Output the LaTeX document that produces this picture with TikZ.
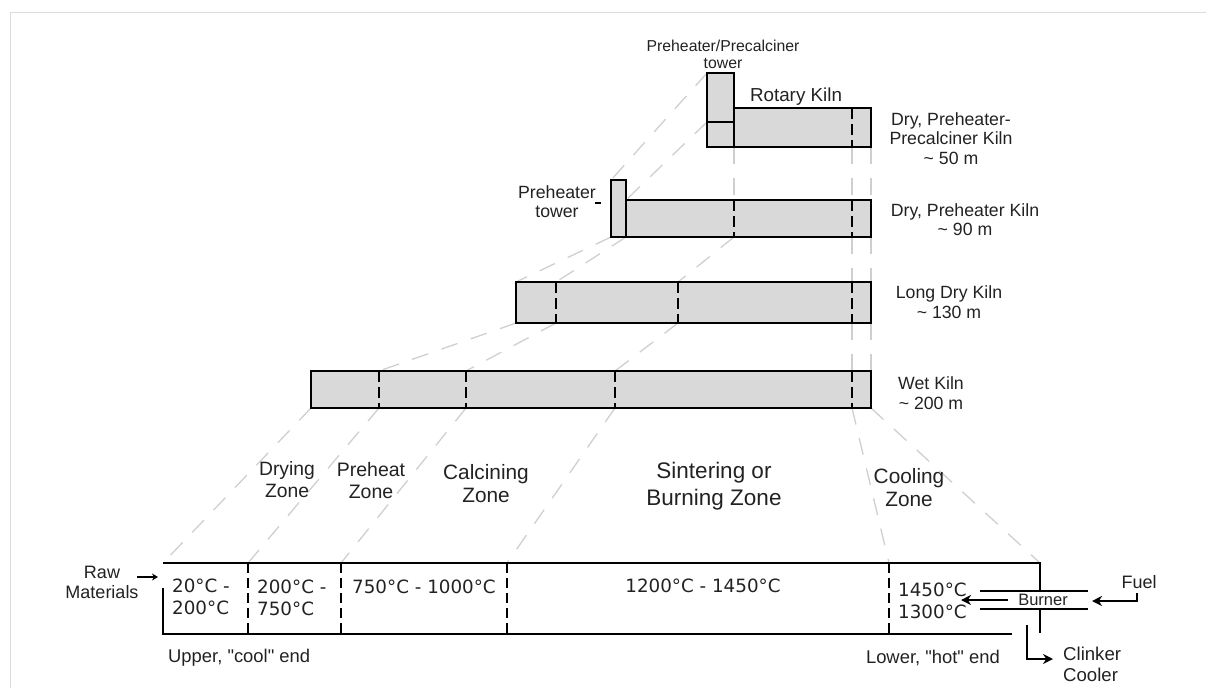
\documentclass[tikz,border=0pt]{standalone}
\usepackage{fontspec}
\setmainfont{Liberation Sans}
\newfontfamily\tempfont{DejaVu Sans}
\usetikzlibrary{arrows.meta}
\tikzset{
  kiln/.style={draw=black,fill=kilngray,line width=2.8pt,rectangle,anchor=north west,inner sep=0pt,outer sep=0pt},
  zoneline/.style={draw=black,line width=2.8pt,dash pattern=on 10.5pt off 5.5pt},
  wall/.style={draw=black,line width=2.8pt},
  thinwall/.style={draw=black,line width=2pt},
  guide/.style={draw=guidegray,line width=1.3pt,dash pattern=on 17pt off 14pt},
  flow/.style={draw=black,line width=2.2pt,-{Stealth[length=10pt,width=10pt]}},
  lab/.style={text=txt,align=center,inner sep=0pt,font=\fontsize{17.7}{19.5}\selectfont},
  zonelab/.style={text=txt,align=center,inner sep=0pt,font=\fontsize{20.8}{23}\selectfont},
  templab/.style={text=txt,align=left,inner sep=0pt,font=\tempfont\fontsize{18.3}{22}\selectfont}
}
\definecolor{kilngray}{HTML}{D9D9D9}
\definecolor{guidegray}{HTML}{CFCFCF}
\definecolor{framegray}{HTML}{DCDCDC}
\definecolor{txt}{HTML}{222222}
\begin{document}
\begin{tikzpicture}[x=1pt,y=-1pt]
\useasboundingbox (0,0) rectangle (1206,688);
\draw[framegray,line width=1.6pt] (10.5,688) -- (10.5,12.5) -- (1206,12.5);

% guide coordinates: bottom kiln
\foreach \n/\x in {a/163,b/248,c/341,d/507,e/889,f/1040}{\coordinate (B\n) at (\x,563);}
% wet kiln
\foreach \n/\x in {a/311,b/379,c/466,d/615,e/852,f/871}{\coordinate (Wb\n) at (\x,408);\coordinate (Wt\n) at (\x,371);}
% long dry kiln
\foreach \n/\x in {a/516,b/556,c/678,e/852,f/871}{\coordinate (Lb\n) at (\x,323);\coordinate (Lt\n) at (\x,282);}
% preheater kiln
\foreach \n/\x in {a/611,b/626,c/734,e/852,f/871}{\coordinate (Pb\n) at (\x,237);\coordinate (Pt\n) at (\x,200);}
\coordinate (Ptop) at (611,180);
% precalciner kiln
\foreach \n/\x in {c/734,e/852,f/871}{\coordinate (Cb\n) at (\x,147);}
\coordinate (Ctop) at (707,73);
\coordinate (Cmid) at (707,122);

% guides
\foreach \s/\t in {Ba/Wba,Bb/Wbb,Bc/Wbc,Bd/Wbd,Be/Wbe,Bf/Wbf,
  Wtb/Lba,Wtc/Lbb,Wtd/Lbc,Wte/Lbe,Wtf/Lbf,
  Lta/Pba,Ltb/Pbb,Ltc/Pbc,Lte/Pbe,Ltf/Pbf,
  Ptop/Ctop,Ptb/Cmid,Ptc/Cbc,Pte/Cbe,Ptf/Cbf}
  {\draw[guide] (\t) -- (\s);}

% wet kiln
\node[kiln,minimum width=560pt,minimum height=37pt] (wet) at (311,371) {};
\foreach \n in {b,c,d,e}{\draw[zoneline] (Wt\n) -- (Wb\n);}
% long dry
\node[kiln,minimum width=355pt,minimum height=41pt] (long) at (516,282) {};
\foreach \n in {b,c,e}{\draw[zoneline] (Lt\n) -- (Lb\n);}
% preheater
\node[kiln,minimum width=245pt,minimum height=37pt] (pre) at (626,200) {};
\node[kiln,minimum width=15pt,minimum height=57pt] (pretower) at (611,180) {};
\foreach \n in {c,e}{\draw[zoneline] (Pt\n) -- (Pb\n);}
% precalciner
\node[kiln,minimum width=137pt,minimum height=39pt] (cal) at (734,108) {};
\node[kiln,minimum width=27pt,minimum height=74pt] (caltower) at (707,73) {};
\draw[wall] (caltower.west |- Cmid) -- (caltower.east |- Cmid);
\coordinate (Cte) at (852,108);
\draw[zoneline] (Cte) -- (Cbe);

% bottom kiln
\coordinate (B0) at (163,588);
\coordinate (B1) at (163,634);
\coordinate (B2) at (1012,634);
\coordinate (R1) at (1040,590);
\coordinate (R2) at (1040,633);
\coordinate (R3) at (1040,609);
\draw[wall] (B0) -- (B1) -- (B2);
\draw[wall] (Ba) -- (Bf) -- (R1);
\draw[wall] (R3) -- (R2);
\foreach \n in {b,c,d,e}{\draw[zoneline,dash pattern=on 10pt off 5pt] (B\n) -- (B\n |- B1);}
% burner
\coordinate (Bu1) at (980,590.5);\coordinate (Bu2) at (1088,590.5);
\coordinate (Bu3) at (980,609);\coordinate (Bu4) at (1088,609);
\draw[thinwall] (Bu1) -- (Bu2);
\draw[thinwall] (Bu3) -- (Bu4);
\node[lab,font=\fontsize{16.5}{16}\selectfont] (burner) at (1043,600) {Burner};
\coordinate (F1) at (1008,600);\coordinate (F2) at (961,600);
\draw[flow] (F1) -- (F2);
\node[lab,font=\fontsize{18}{18}\selectfont] (fuel) at (1139,582) {Fuel};
\coordinate (F3) at (1137,593);\coordinate (F4) at (1137,601);\coordinate (F5) at (1092,601);
\draw[flow] (F3) -- (F4) -- (F5);
\coordinate (K1) at (1027,625);\coordinate (K2) at (1027,659);\coordinate (K3) at (1053,659);
\draw[flow] (K1) -- (K2) -- (K3);
\node[lab,align=left,anchor=west,font=\fontsize{18.6}{21}\selectfont] (clinker) at (1063,664.5) {Clinker\\Cooler};
\coordinate (Ra1) at (137,577);\coordinate (Ra2) at (158,577);
\draw[draw=black,line width=2.2pt,-{Stealth[length=6pt,width=7pt]}] (Ra1) -- (Ra2);
\node[lab,font=\fontsize{18}{20}\selectfont] (raw) at (102,582) {Raw\\Materials};
\node[lab,anchor=west,font=\fontsize{18.4}{20}\selectfont] (upper) at (168,658) {Upper, \textquotedbl cool\textquotedbl{} end};
\node[lab,anchor=east,font=\fontsize{18.4}{20}\selectfont] (lower) at (1000,658) {Lower, \textquotedbl hot\textquotedbl{} end};

% temperatures
\node[templab,anchor=west] (t1) at (172,596.5) {20°C -\\200°C};
\node[templab,anchor=west] (t2) at (257,598) {200°C -\\750°C};
\node[templab] (t3) at (424,587) {750°C - 1000°C};
\node[templab] (t4) at (703,586) {1200°C - 1450°C};
\node[templab,anchor=west] (t5) at (898,600.5) {1450°C\\1300°C};

% zone names
\node[zonelab,font=\fontsize{19.3}{22}\selectfont] (z1) at (287,480) {Drying\\Zone};
\node[zonelab,font=\fontsize{19.5}{22}\selectfont] (z2) at (371,481) {Preheat\\Zone};
\node[zonelab] (z3) at (486,483.5) {Calcining\\Zone};
\node[zonelab,font=\fontsize{22.5}{27}\selectfont] (z4) at (714,486.5) {Sintering or\\Burning Zone};
\node[zonelab] (z5) at (909,488) {Cooling\\Zone};

% kiln names
\node[lab,font=\fontsize{15.8}{17}\selectfont] (n1) at (723,54.5) {Preheater/Precalciner\\tower};
\node[lab,font=\fontsize{18.8}{20}\selectfont] (n2) at (796,97) {Rotary Kiln};
\node[lab] (n3) at (951,138.5) {Dry, Preheater-\\Precalciner Kiln\\\textasciitilde{} 50 m};
\node[lab] (n4) at (965,219.5) {Dry, Preheater Kiln\\\textasciitilde{} 90 m};
\node[lab] (n5) at (949,302) {Long Dry Kiln\\\textasciitilde{} 130 m};
\node[lab] (n6) at (931,393) {Wet Kiln\\\textasciitilde{} 200 m};
\node[lab] (n7) at (557,201.5) {Preheater\\tower};
\coordinate (d1) at (595,203);\coordinate (d2) at (601,203);
\draw[wall] (d1) -- (d2);
\end{tikzpicture}
\end{document}
